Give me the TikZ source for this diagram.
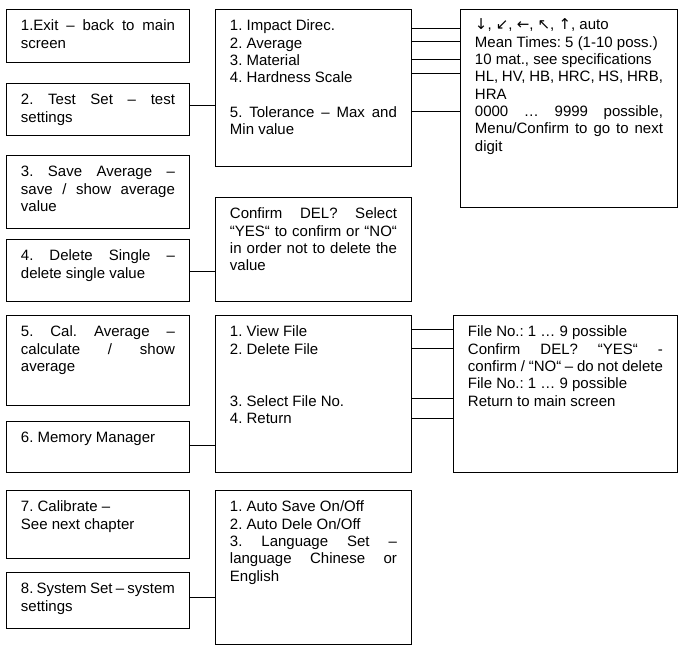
\documentclass[tikz,border=0pt]{standalone}
\usepackage{fontspec}
\setmainfont{Liberation Sans}
\newfontfamily\arrfont{DejaVu Sans}
\newcommand\boxfont{\fontsize{15}{17.3}\selectfont\frenchspacing\tolerance=10000\hbadness=10000\hyphenpenalty=10000\exhyphenpenalty=10000\parskip=0pt\parindent=0pt}
\newcommand\ar[1]{{\arrfont #1}}
\begin{document}
\begin{tikzpicture}[x=1pt,y=-1pt,
  box/.style={draw, line width=0.9pt, anchor=north west, inner xsep=14.5pt, inner ysep=0pt,
    align=justify, text height=21.5pt, font=\boxfont},
  leftbox/.style={box, text width=154pt},
  midbox/.style={box, text width=167pt},
  link/.style={line width=0.9pt}]
\useasboundingbox (0,0) rectangle (682,650);
% left column
\node[leftbox, text depth=31.5pt] (b1) at (6,9) {1.Exit – back to main \linebreak screen};
\node[leftbox, text depth=30.5pt] (b2) at (6,83) {2. Test Set – test \linebreak settings};
\node[leftbox, text depth=51.5pt] (b3) at (6,155) {3. Save Average – \linebreak save / show average \linebreak value};
\node[leftbox, text depth=40.5pt] (b4) at (6,239) {4. Delete Single – \linebreak delete single value};
\node[leftbox, text depth=68.5pt] (b5) at (6,315) {5. Cal. Average – \linebreak calculate / show \linebreak average};
\node[leftbox, text depth=29.5pt] (b6) at (6,421) {6. Memory Manager};
\node[leftbox, text depth=46.5pt] (b7) at (6,490) {7. Calibrate –\par See next chapter};
\node[leftbox, text depth=34.5pt] (b8) at (6,572) {8. System Set – system \linebreak settings};
% middle column
\node[midbox, text depth=135.5pt] (m1) at (215,9) {1. Impact Direc.\par 2. Average\par 3. Material\par 4. Hardness Scale\par\mbox{}\par 5. Tolerance – Max and \linebreak Min value};
\node[midbox, text depth=82.5pt] (m2) at (215,197) {Confirm DEL? Select \linebreak “YES“ to confirm or “NO“ \linebreak in order not to delete the \linebreak value};
\node[midbox, text depth=135.5pt] (m3) at (215,315) {1. View File\par 2. Delete File\par\mbox{}\par\mbox{}\par 3. Select File No.\par 4. Return};
\node[midbox, text depth=132.5pt] (m4) at (215,490) {1. Auto Save On/Off\par 2. Auto Dele On/Off\par 3. Language Set – \linebreak language Chinese or \linebreak English};
% right column
\node[box, text width=188pt, text height=20.5pt, text depth=177.5pt] (r1) at (460,9) {\ar{↓}, \ar{↙}, \ar{←}, \ar{↖}, \ar{↑}, auto\par Mean Times: 5 (1-10 poss.)\par 10 mat., see specifications\par HL, HV, HB, HRC, HS, HRB, \linebreak HRA\par 0000 … 9999 possible, \linebreak Menu/Confirm to go to next \linebreak digit};
\node[box, text width=195pt, text depth=135.5pt] (r2) at (453,315) {File No.: 1 … 9 possible\par Confirm DEL? “YES“ - \linebreak confirm / “NO“ – do not delete\par File No.: 1 … 9 possible\par Return to main screen};
% connector heights
\coordinate (y2) at (0,105.3);
\coordinate (y4) at (0,271.7);
\coordinate (y6) at (0,445);
\coordinate (y8) at (0,597.7);
\coordinate (ya) at (0,28.3);
\coordinate (yb) at (0,41.7);
\coordinate (yc) at (0,59);
\coordinate (yd) at (0,73.3);
\coordinate (ye) at (0,111.7);
\coordinate (yf) at (0,329.3);
\coordinate (yg) at (0,348.7);
\coordinate (yh) at (0,398.3);
\coordinate (yi) at (0,418.3);
% connectors
\draw[link] (b2.east |- y2) -- (m1.west |- y2);
\draw[link] (b4.east |- y4) -- (m2.west |- y4);
\draw[link] (b6.east |- y6) -- (m3.west |- y6);
\draw[link] (b8.east |- y8) -- (m4.west |- y8);
\foreach \c in {ya,yb,yc,yd,ye} \draw[link] (m1.east |- \c) -- (r1.west |- \c);
\foreach \c in {yf,yg,yh,yi} \draw[link] (m3.east |- \c) -- (r2.west |- \c);
\end{tikzpicture}
\end{document}
